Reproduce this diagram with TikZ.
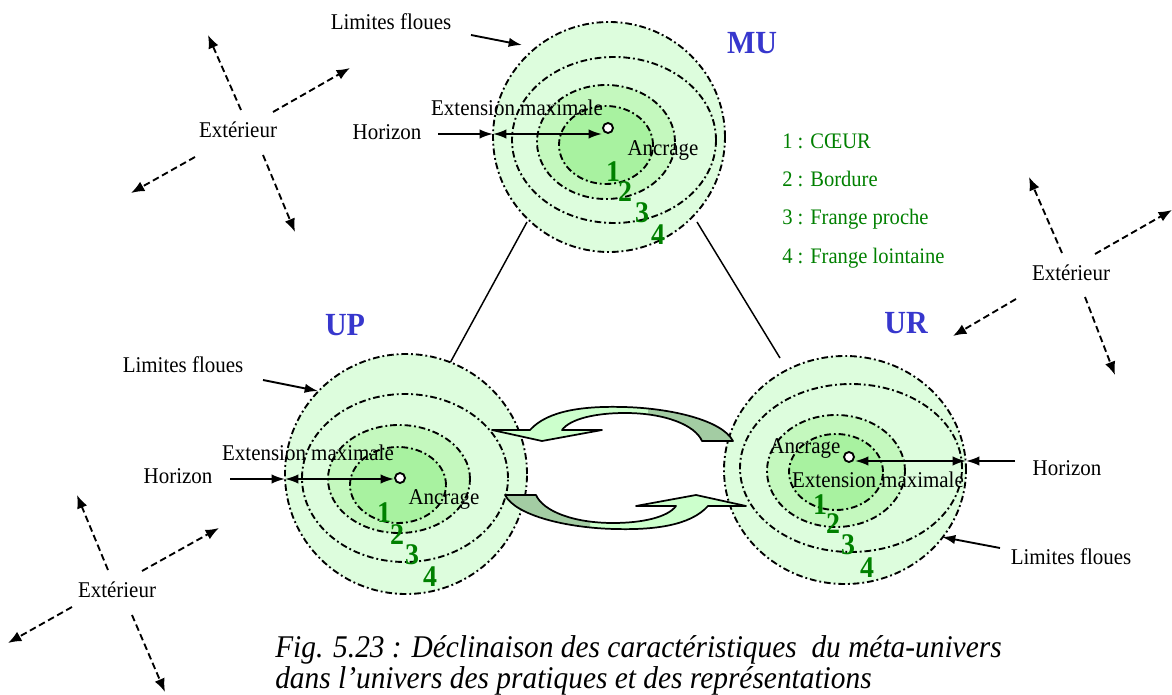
\documentclass[tikz,border=0pt]{standalone}
\usepackage{fontspec}
\setmainfont{Liberation Serif}[FakeStretch=0.93]
\usetikzlibrary{arrows.meta,shapes.geometric}
\definecolor{pale}{RGB}{221,253,221}
\definecolor{midg}{RGB}{196,248,190}
\definecolor{coreg}{RGB}{168,242,160}
\definecolor{lblue}{RGB}{55,55,205}
\definecolor{dgreen}{RGB}{0,128,0}
\definecolor{arrlight}{RGB}{204,255,204}
\definecolor{arrdark}{RGB}{163,204,163}
\begin{document}
\begin{tikzpicture}[x=0.75pt,y=-0.75pt,
  ring/.style={ellipse, draw=black, line width=1.4pt, dash pattern=on 5pt off 2.2pt on 1.4pt off 2.2pt, inner sep=0pt, outer sep=0pt},
  er/.style 2 args={minimum width=#1*1.5pt, minimum height=#2*1.5pt},
  lbl/.style={inner sep=0pt, font=\fontsize{16.9}{19}\selectfont},
  num/.style={inner sep=0pt, text=dgreen, font=\fontsize{22.5}{25}\selectfont\bfseries},
  ttl/.style={inner sep=0pt, text=lblue, font=\fontsize{24.2}{27}\selectfont\bfseries},
  leg/.style={inner sep=0pt, anchor=base west, text=dgreen, font=\fontsize{16.6}{19}\selectfont},
  captxt/.style={inner sep=0pt, anchor=base west, font=\fontsize{23.7}{27}\selectfont\itshape},
  ptr/.style={line width=1.4pt, -{Latex[length=10pt,width=7pt]}},
  dbl/.style={line width=1.4pt, {Latex[length=10pt,width=7pt]}-{Latex[length=10pt,width=7pt]}},
  ext/.style={line width=1.4pt, dash pattern=on 5pt off 2.8pt, -{Latex[length=10pt,width=8pt]}},
  anch/.style={circle, draw=black, fill=white, line width=1.4pt, minimum size=7.5pt, inner sep=0pt},
  link/.style={line width=1.1pt},
  band/.style={draw=black, line width=1.3pt, line join=round}
]
\useasboundingbox (0,0) rectangle (1172,695);

% connecting lines
\coordinate (l1a) at (527,222); \coordinate (l1b) at (450,363);
\coordinate (l2a) at (697,222); \coordinate (l2b) at (780,358);
\draw[link] (l1a) -- (l1b);
\draw[link] (l2a) -- (l2b);

% MU
\node[ring, er={116}{115}, fill=pale] (MU4) at (609,137) {};
\node[ring, er={102}{83}, fill=pale] (MU3) at (614,140) {};
\node[ring, er={69}{57}, fill=midg] (MU2) at (606,142) {};
\node[ring, er={47}{39}, fill=coreg] (MU1) at (606,145) {};
% UP
\node[ring, er={121}{120}, fill=pale] (UP4) at (406,474) {};
\node[ring, er={103}{84}, fill=pale] (UP3) at (405,478) {};
\node[ring, er={71}{54}, fill=midg] (UP2) at (399,479) {};
\node[ring, er={48}{38}, fill=coreg] (UP1) at (398,485) {};
% UR
\node[ring, er={121}{114}, fill=pale] (UR4) at (845,470) {};
\node[ring, er={111}{84}, fill=pale] (UR3) at (851,468) {};
\node[ring, er={69}{56}, fill=midg] (UR2) at (836,471) {};
\node[ring, er={47}{38}, fill=coreg] (UR1) at (836,472) {};

% titles
\node[ttl] (tMU) at (752,43) {MU};
\node[ttl] (tUP) at (345,325) {UP};
\node[ttl] (tUR) at (906,323) {UR};

% cyclic arrows
\foreach \r in {0,180}{
\begin{scope}[rotate around={\r:(619,468)}]
\fill[arrlight] (492,430) -- (530,430) .. controls (548,410) and (585,406) .. (623,407) .. controls (670,408) and (722,420) .. (733,441) -- (702,441) .. controls (695,425) and (665,413) .. (625,413) .. controls (595,413) and (570,419) .. (562,430) -- (602,430) -- (542,441) -- cycle;
\begin{scope}
\clip (648,380) rectangle (760,460);
\fill[arrdark] (492,430) -- (530,430) .. controls (548,410) and (585,406) .. (623,407) .. controls (670,408) and (722,420) .. (733,441) -- (702,441) .. controls (695,425) and (665,413) .. (625,413) .. controls (595,413) and (570,419) .. (562,430) -- (602,430) -- (542,441) -- cycle;
\end{scope}
\draw[band] (492,430) -- (530,430) .. controls (548,410) and (585,406) .. (623,407) .. controls (670,408) and (722,420) .. (733,441) -- (702,441) .. controls (695,425) and (665,413) .. (625,413) .. controls (595,413) and (570,419) .. (562,430) -- (602,430) -- (542,441) -- cycle;
\end{scope}
}

% anchors (dots)
\node[anch] (dMU) at (608,128) {};
\node[anch] (dUP) at (400,478) {};
\node[anch] (dUR) at (849,457) {};

% labels MU
\node[lbl] (limMU) at (391,22) {Limites floues};
\node[lbl] (horMU) at (387,132) {Horizon};
\node[lbl] (extMU) at (517,108) {Extension maximale};
\node[lbl] (ancMU) at (663,150) {Ancrage};
\coordinate (hMUa) at (438,134); \coordinate (hMUb) at (493,134); \coordinate (hMUc) at (602,134);
\draw[ptr] (hMUa) -- (hMUb);
\draw[dbl] (hMUb) -- (hMUc);
\coordinate (pMUa) at (471,35); \coordinate (pMUb) at (522,45);
\draw[ptr] (pMUa) -- (pMUb);
\node[num] (n1MU) at (613,172) {1};
\node[num] (n2MU) at (625,192) {2};
\node[num] (n3MU) at (642,213) {3};
\node[num] (n4MU) at (658,235) {4};

% labels UP
\node[lbl] (limUP) at (183,365) {Limites floues};
\node[lbl] (horUP) at (178,476) {Horizon};
\node[lbl] (extUP) at (308,453) {Extension maximale};
\node[lbl] (ancUP) at (444,499) {Ancrage};
\coordinate (hUPa) at (230,479); \coordinate (hUPb) at (285,479); \coordinate (hUPc) at (394,479);
\draw[ptr] (hUPa) -- (hUPb);
\draw[dbl] (hUPb) -- (hUPc);
\coordinate (pUPa) at (263,380); \coordinate (pUPb) at (318,391);
\draw[ptr] (pUPa) -- (pUPb);
\node[num] (n1UP) at (384,513) {1};
\node[num] (n2UP) at (397,535) {2};
\node[num] (n3UP) at (412,555) {3};
\node[num] (n4UP) at (430,577) {4};

% labels UR
\node[lbl] (limUR) at (1071,557) {Limites floues};
\node[lbl] (horUR) at (1067,468) {Horizon};
\node[lbl] (extUR) at (878,480) {Extension maximale};
\node[lbl] (ancUR) at (805,448) {Ancrage};
\coordinate (hURa) at (1015,461); \coordinate (hURb) at (966,461); \coordinate (hURc) at (855,461);
\draw[ptr] (hURa) -- (hURb);
\draw[dbl] (hURb) -- (hURc);
\coordinate (pURa) at (1000,548); \coordinate (pURb) at (942,537);
\draw[ptr] (pURa) -- (pURb);
\node[num] (n1UR) at (820,505) {1};
\node[num] (n2UR) at (833,524) {2};
\node[num] (n3UR) at (848,545) {3};
\node[num] (n4UR) at (867,568) {4};

% legend
\node[leg] (lg1) at (782,149) {1 : CŒUR};
\node[leg] (lg2) at (782,187) {2 : Bordure};
\node[leg] (lg3) at (782,225) {3 : Frange proche};
\node[leg] (lg4) at (782,264) {4 : Frange lointaine};

% Exterieur groups
\node[lbl] (ex1) at (238,130) {Extérieur};
\draw[ext] (241,110) coordinate (a1s) -- (208,35) coordinate (a1e);
\draw[ext] (273,112) coordinate (a2s) -- (350,68) coordinate (a2e);
\draw[ext] (195,157) coordinate (a3s) -- (131,193) coordinate (a3e);
\draw[ext] (263,155) coordinate (a4s) -- (295,232) coordinate (a4e);

\node[lbl] (ex2) at (117,590) {Extérieur};
\draw[ext] (108,570) coordinate (b1s) -- (77,495) coordinate (b1e);
\draw[ext] (142,571) coordinate (b2s) -- (219,528) coordinate (b2e);
\draw[ext] (72,607) coordinate (b3s) -- (8,643) coordinate (b3e);
\draw[ext] (132,615) coordinate (b4s) -- (165,692) coordinate (b4e);

\node[lbl] (ex3) at (1071,273) {Extérieur};
\draw[ext] (1062,253) coordinate (c1s) -- (1029,177) coordinate (c1e);
\draw[ext] (1095,254) coordinate (c2s) -- (1172,210) coordinate (c2e);
\draw[ext] (1016,299) coordinate (c3s) -- (953,336) coordinate (c3e);
\draw[ext] (1085,297) coordinate (c4s) -- (1115,375) coordinate (c4e);

% caption
\node[captxt] (cap1) at (275,657) {Fig. 5.23 : Déclinaison des caractéristiques\ \ du méta-univers};
\node[captxt] (cap2) at (275,688) {dans l’univers des pratiques et des représentations};
\end{tikzpicture}
\end{document}
